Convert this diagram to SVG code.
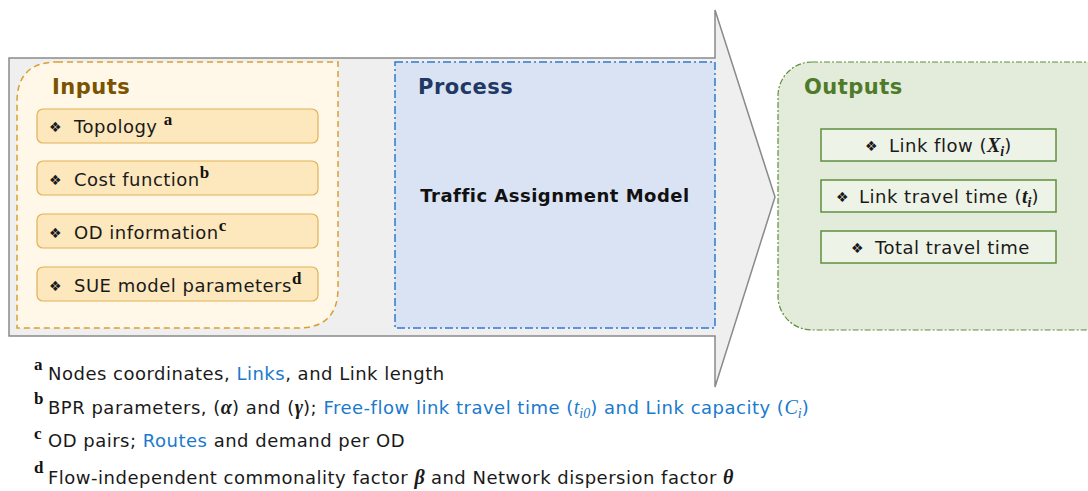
<svg xmlns="http://www.w3.org/2000/svg" width="1088" height="491" viewBox="0 0 1088 491">
<style>
text{font-family:"DejaVu Sans",Verdana,sans-serif;}
.t{font-size:18px;letter-spacing:0.5px;fill:#1a1a1a;}
.d{font-size:14px;fill:#1a1a1a;}
.h{font-size:21px;font-weight:bold;letter-spacing:0.5px;}
.m{font-family:"Liberation Serif","DejaVu Serif",serif;font-style:italic;font-weight:bold;font-size:20px;letter-spacing:0;}
.mi{font-family:"Liberation Serif","DejaVu Serif",serif;font-style:italic;font-size:20px;letter-spacing:0;}
.sub{font-family:"Liberation Serif","DejaVu Serif",serif;font-style:italic;font-size:14px;letter-spacing:0;}
.sup{font-family:"Liberation Serif","DejaVu Serif",serif;font-weight:bold;font-size:17px;fill:#111;letter-spacing:0;}
.blue{fill:#1a7acc;}
.item{fill:#fde7bd;stroke:#e2b255;stroke-width:1.2;}
.oitem{fill:#eef3e7;stroke:#5f8f3e;stroke-width:1.5;}
</style>
<rect width="1088" height="491" fill="#ffffff"/>
<g id="arrow">
<path d="M9,58 H715 V10 L775,197 L715,387 V336 H9 Z" fill="#efefef" stroke="#8a8a8a" stroke-width="1.5"/>
</g>
<g id="inputs">
<path d="M57,62 H338 V288 Q338,328 298,328 H17 V102 Q17,62 57,62 Z" fill="#fff7e8" stroke="#d9a033" stroke-width="1.5" stroke-dasharray="6,4"/>
<text x="52" y="94" class="h" fill="#7a5200">Inputs</text>
<rect x="37" y="109" width="281" height="34" rx="6" class="item"/>
<rect x="37" y="161" width="281" height="34" rx="6" class="item"/>
<rect x="37" y="214" width="281" height="34" rx="6" class="item"/>
<rect x="37" y="267" width="281" height="34" rx="6" class="item"/>
<text x="49" y="132" class="d">❖</text>
<text x="49" y="185" class="d">❖</text>
<text x="49" y="238" class="d">❖</text>
<text x="49" y="291" class="d">❖</text>
<text x="74" y="133" class="t">Topology <tspan class="sup" dy="-8">a</tspan></text>
<text x="74" y="186" class="t">Cost function<tspan class="sup" dy="-8">b</tspan></text>
<text x="74" y="239" class="t">OD information<tspan class="sup" dy="-8">c</tspan></text>
<text x="74" y="292" class="t">SUE model parameters<tspan class="sup" dy="-8">d</tspan></text>
</g>
<g id="process">
<rect x="395" y="62" width="320" height="266" fill="#dae3f3" stroke="#2f7bd1" stroke-width="1.5" stroke-dasharray="8,3,2,3"/>
<text x="418" y="94" class="h" fill="#1f3864">Process</text>
<text x="555" y="202" text-anchor="middle" font-size="18" letter-spacing="0.5" font-weight="bold" fill="#111">Traffic Assignment Model</text>
</g>
<g id="outputs">
<rect x="778" y="62" width="340" height="268" rx="34" fill="#e3ecda" stroke="#5f8f3e" stroke-width="1.2" stroke-dasharray="6,2,2,2"/>
<text x="804" y="94" class="h" fill="#4e7a2a">Outputs</text>
<rect x="821" y="129" width="235" height="32" class="oitem"/>
<rect x="821" y="180" width="235" height="32" class="oitem"/>
<rect x="821" y="231" width="235" height="32" class="oitem"/>
<text x="865" y="151" class="d">❖</text>
<text x="836" y="202" class="d">❖</text>
<text x="851" y="253" class="d">❖</text>
<text x="889" y="152" class="t">Link flow (<tspan class="m">X</tspan><tspan class="sub" font-weight="bold" dy="4">i</tspan><tspan dy="-4">)</tspan></text>
<text x="859" y="203" class="t">Link travel time (<tspan class="m">t</tspan><tspan class="sub" font-weight="bold" dy="4">i</tspan><tspan dy="-4">)</tspan></text>
<text x="875" y="254" class="t">Total travel time</text>
</g>
<g id="footnotes">
<text x="34" y="370" class="sup">a</text>
<text x="48" y="380" class="t">Nodes coordinates, <tspan class="blue">Links</tspan>, and Link length</text>
<text x="34" y="404" class="sup">b</text>
<text x="48" y="414" class="t">BPR parameters, (<tspan class="m">α</tspan>) and (<tspan class="m">γ</tspan>); <tspan class="blue">Free-flow link travel time (<tspan class="mi">t</tspan><tspan class="sub" dy="4">i0</tspan><tspan dy="-4">) and Link capacity (</tspan><tspan class="mi">C</tspan><tspan class="sub" dy="4">i</tspan><tspan dy="-4">)</tspan></tspan></text>
<text x="34" y="439" class="sup">c</text>
<text x="48" y="447" class="t">OD pairs; <tspan class="blue">Routes</tspan> and demand per OD</text>
<text x="34" y="473" class="sup">d</text>
<text x="48" y="484" class="t">Flow-independent commonality factor <tspan class="m">β</tspan> and Network dispersion factor <tspan class="m">θ</tspan></text>
</g>
</svg>
